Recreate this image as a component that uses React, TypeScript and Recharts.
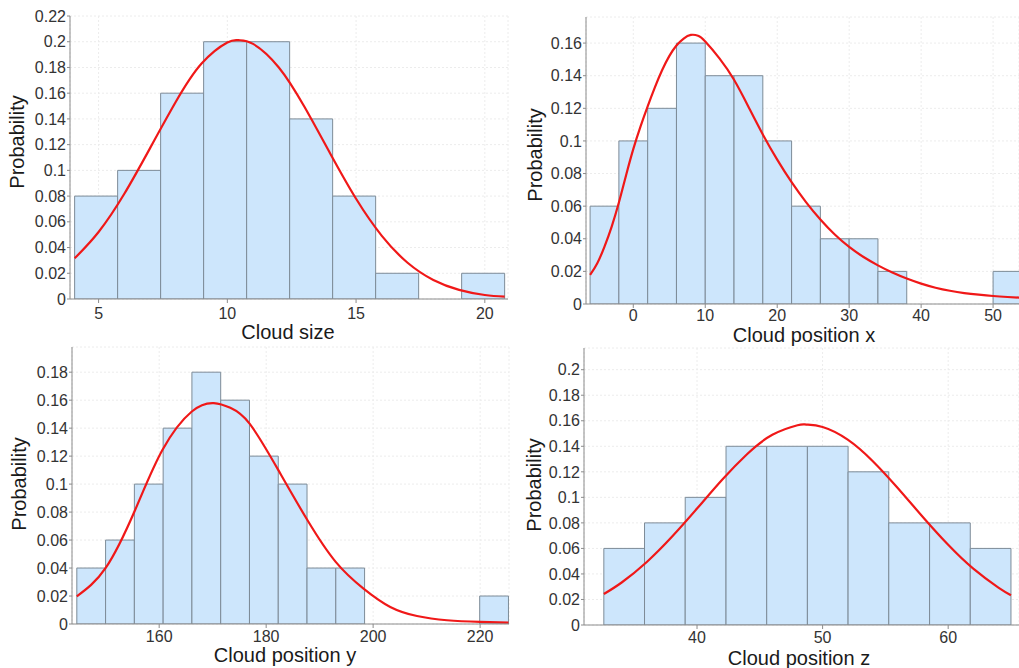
import React from 'react';
import { ComposedChart, Line, XAxis, YAxis, CartesianGrid, ReferenceArea } from 'recharts';

const FONT = '"Liberation Sans", Arial, Helvetica, sans-serif';

// ---------- Panel 1: Cloud size ----------
const sizeBinEdges = [4.07, 5.74, 7.41, 9.08, 10.75, 12.42, 14.09, 15.76, 17.43, 19.1, 20.77];
const sizeProb = [0.08, 0.1, 0.16, 0.2, 0.2, 0.14, 0.08, 0.02, 0, 0.02];
const sizeCurveX = [4.07, 5, 6, 7, 8, 9, 10, 10.44, 11, 12, 13, 14, 15, 16, 17, 18, 19, 20, 20.77];
const sizeCurveY = [0.0316, 0.0521, 0.0818, 0.1173, 0.1533, 0.183, 0.1994, 0.2012, 0.1983, 0.18, 0.1492, 0.1129, 0.0779, 0.0491, 0.0282, 0.0148, 0.0071, 0.0031, 0.0018];
const sizeXTicks = [5, 10, 15, 20];
const sizeYTicks = [0, 0.02, 0.04, 0.06, 0.08, 0.1, 0.12, 0.14, 0.16, 0.18, 0.2, 0.22];

// ---------- Panel 2: Cloud position x ----------
const posXBinEdges = [-6, -2, 2, 6, 10, 14, 18, 22, 26, 30, 34, 38, 42, 46, 50, 54];
const posXProb = [0.06, 0.1, 0.12, 0.16, 0.14, 0.14, 0.1, 0.06, 0.04, 0.04, 0.02, 0, 0, 0, 0.02];
const posXCurveX = [-6, -5, -4, -3, -2, -1, 0, 1, 2, 3, 4, 5, 6, 7, 8, 9, 10, 12, 14, 16, 18, 20, 22, 24, 26, 28, 30, 32, 34, 36, 38, 40, 42, 44, 46, 48, 50, 52, 53.6];
const posXCurveY = [0.0178, 0.025, 0.0352, 0.0475, 0.0622, 0.079, 0.095, 0.1088, 0.1212, 0.1328, 0.1433, 0.152, 0.1585, 0.1628, 0.165, 0.1645, 0.161, 0.1505, 0.1375, 0.121, 0.104, 0.0885, 0.0747, 0.0625, 0.0518, 0.0426, 0.035, 0.0288, 0.0237, 0.0193, 0.0156, 0.0125, 0.01, 0.0081, 0.0067, 0.0057, 0.0049, 0.0043, 0.0039];
const posXXTicks = [0, 10, 20, 30, 40, 50];
const posXYTicks = [0, 0.02, 0.04, 0.06, 0.08, 0.1, 0.12, 0.14, 0.16];

// ---------- Panel 3: Cloud position y ----------
const posYBinEdges = [144.6, 149.98, 155.36, 160.74, 166.12, 171.5, 176.88, 182.26, 187.64, 193.02, 198.4, 203.78, 209.16, 214.54, 219.92, 225.3];
const posYProb = [0.04, 0.06, 0.1, 0.14, 0.18, 0.16, 0.12, 0.1, 0.04, 0.04, 0, 0, 0, 0, 0.02];
const posYCurveX = [144.6, 150, 155.5, 160.6, 166.1, 170.2, 173.3, 176.9, 182.2, 187.7, 193, 198.2, 203.2, 208.2, 213.8, 220, 225.3];
const posYCurveY = [0.0198, 0.0401, 0.0815, 0.1244, 0.1519, 0.1579, 0.1545, 0.1432, 0.1105, 0.0743, 0.0444, 0.0253, 0.0122, 0.0057, 0.0027, 0.0015, 0.001];
const posYXTicks = [160, 180, 200, 220];
const posYYTicks = [0, 0.02, 0.04, 0.06, 0.08, 0.1, 0.12, 0.14, 0.16, 0.18];

// ---------- Panel 4: Cloud position z ----------
const posZBinEdges = [32.58, 35.82, 39.06, 42.31, 45.55, 48.79, 52.03, 55.27, 58.52, 61.76, 65.0];
const posZProb = [0.06, 0.08, 0.1, 0.14, 0.14, 0.14, 0.12, 0.08, 0.08, 0.06];
const posZCurveX = [32.58, 34, 36, 38, 40, 42, 44, 46, 48, 48.7, 50, 52, 54, 56, 58, 60, 62, 64, 65];
const posZCurveY = [0.0243, 0.0333, 0.0494, 0.0691, 0.0912, 0.1138, 0.134, 0.149, 0.1565, 0.157, 0.1551, 0.1452, 0.1283, 0.1071, 0.0844, 0.0628, 0.0441, 0.0293, 0.0233];
const posZXTicks = [40, 50, 60];
const posZYTicks = [0, 0.02, 0.04, 0.06, 0.08, 0.1, 0.12, 0.14, 0.16, 0.18, 0.2];

type PanelProps = {
  left: number;
  top: number;
  width: number;
  height: number;
  margin: { top: number; right: number; bottom: number; left: number };
  yAxisWidth: number;
  xAxisHeight: number;
  xTickMargin: number;
  edges: number[];
  probs: number[];
  cx: number[];
  cy: number[];
  xDomain: [number, number];
  yDomain: [number, number];
  xTicks: number[];
  yTicks: number[];
  xLabel: string;
  xLabelPos: [number, number];
  yLabelPos: [number, number];
  rightFrame: boolean;
};

const tickStyle = { fill: '#333333', fontSize: 16, fontFamily: FONT };

function Panel(p: PanelProps) {
  const data = p.cx.map((x, i) => ({ x, y: p.cy[i] }));
  const [lx, ly] = p.xLabelPos;
  const [bx, by] = p.yLabelPos;
  return (
    <div style={{ position: 'absolute', left: p.left, top: p.top, width: p.width, height: p.height }}>
      <ComposedChart width={p.width} height={p.height} data={data} margin={p.margin}>
        <CartesianGrid stroke="#ececec" strokeDasharray="2 2" />
        <XAxis
          dataKey="x"
          type="number"
          domain={p.xDomain}
          allowDataOverflow
          ticks={p.xTicks}
          interval={0}
          height={p.xAxisHeight}
          tickSize={4}
          tickMargin={p.xTickMargin}
          stroke="#8c8c8c"
          tick={tickStyle}
          label={{
            content: () => (
              <text x={lx} y={ly} textAnchor="middle" fontSize={20} fill="#1a1a1a" fontFamily={FONT}>
                {p.xLabel}
              </text>
            ),
          }}
        />
        <XAxis xAxisId="top" orientation="top" type="number" domain={p.xDomain} allowDataOverflow height={0} tick={false} tickLine={false} stroke="#a8a8a8" />
        <YAxis
          type="number"
          domain={p.yDomain}
          allowDataOverflow
          ticks={p.yTicks}
          interval={0}
          width={p.yAxisWidth}
          tickSize={3}
          tickMargin={1}
          stroke="#8c8c8c"
          tick={tickStyle}
          label={{
            content: () => (
              <text x={bx} y={by} transform={`rotate(-90 ${bx} ${by})`} textAnchor="middle" fontSize={20} fill="#1a1a1a" fontFamily={FONT}>
                Probability
              </text>
            ),
          }}
        />
        {p.rightFrame && (
          <YAxis yAxisId="right" orientation="right" type="number" domain={p.yDomain} allowDataOverflow width={0} tick={false} tickLine={false} stroke="#a8a8a8" />
        )}
        {p.probs.map((v, i) => (
          <ReferenceArea
            key={i}
            x1={p.edges[i]}
            x2={p.edges[i + 1]}
            y1={0}
            y2={v}
            fill="#cde6fc"
            fillOpacity={1}
            stroke="#7d8b97"
            strokeWidth={1}
            ifOverflow="hidden"
          />
        ))}
        <Line dataKey="y" type="natural" stroke="#f01818" strokeWidth={2.2} dot={false} activeDot={false} isAnimationActive={false} />
      </ComposedChart>
    </div>
  );
}

export default function App() {
  return (
    <div style={{ position: 'absolute', left: 0, top: 0, width: 1019, height: 668, background: '#ffffff', overflow: 'hidden', fontFamily: FONT }}>
      <Panel
        left={0}
        top={0}
        width={510}
        height={346}
        margin={{ top: 16, right: 2, bottom: 0, left: 0 }}
        yAxisWidth={70}
        xAxisHeight={47}
        xTickMargin={5}
        edges={sizeBinEdges}
        probs={sizeProb}
        cx={sizeCurveX}
        cy={sizeCurveY}
        xDomain={[3.89, 20.9]}
        yDomain={[0, 0.22]}
        xTicks={sizeXTicks}
        yTicks={sizeYTicks}
        xLabel="Cloud size"
        xLabelPos={[288, 339]}
        yLabelPos={[24, 142]}
        rightFrame={true}
      />
      <Panel
        left={510}
        top={0}
        width={509}
        height={350}
        margin={{ top: 17, right: 0, bottom: 0, left: 0 }}
        yAxisWidth={76}
        xAxisHeight={46}
        xTickMargin={2}
        edges={posXBinEdges}
        probs={posXProb}
        cx={posXCurveX}
        cy={posXCurveY}
        xDomain={[-6.57, 53.6]}
        yDomain={[0, 0.176]}
        xTicks={posXXTicks}
        yTicks={posXYTicks}
        xLabel="Cloud position x"
        xLabelPos={[294, 342]}
        yLabelPos={[32, 155]}
        rightFrame={false}
      />
      <Panel
        left={0}
        top={340}
        width={510}
        height={328}
        margin={{ top: 7, right: 1, bottom: 0, left: 0 }}
        yAxisWidth={72}
        xAxisHeight={44}
        xTickMargin={3}
        edges={posYBinEdges}
        probs={posYProb}
        cx={posYCurveX}
        cy={posYCurveY}
        xDomain={[143.7, 225.4]}
        yDomain={[0, 0.198]}
        xTicks={posYXTicks}
        yTicks={posYYTicks}
        xLabel="Cloud position y"
        xLabelPos={[285, 322]}
        yLabelPos={[26, 144]}
        rightFrame={true}
      />
      <Panel
        left={510}
        top={340}
        width={509}
        height={328}
        margin={{ top: 8, right: 0, bottom: 0, left: 0 }}
        yAxisWidth={74}
        xAxisHeight={43}
        xTickMargin={3}
        edges={posZBinEdges}
        probs={posZProb}
        cx={posZCurveX}
        cy={posZCurveY}
        xDomain={[31.0, 65.64]}
        yDomain={[0, 0.217]}
        xTicks={posZXTicks}
        yTicks={posZYTicks}
        xLabel="Cloud position z"
        xLabelPos={[289, 325]}
        yLabelPos={[31, 145]}
        rightFrame={false}
      />
    </div>
  );
}
